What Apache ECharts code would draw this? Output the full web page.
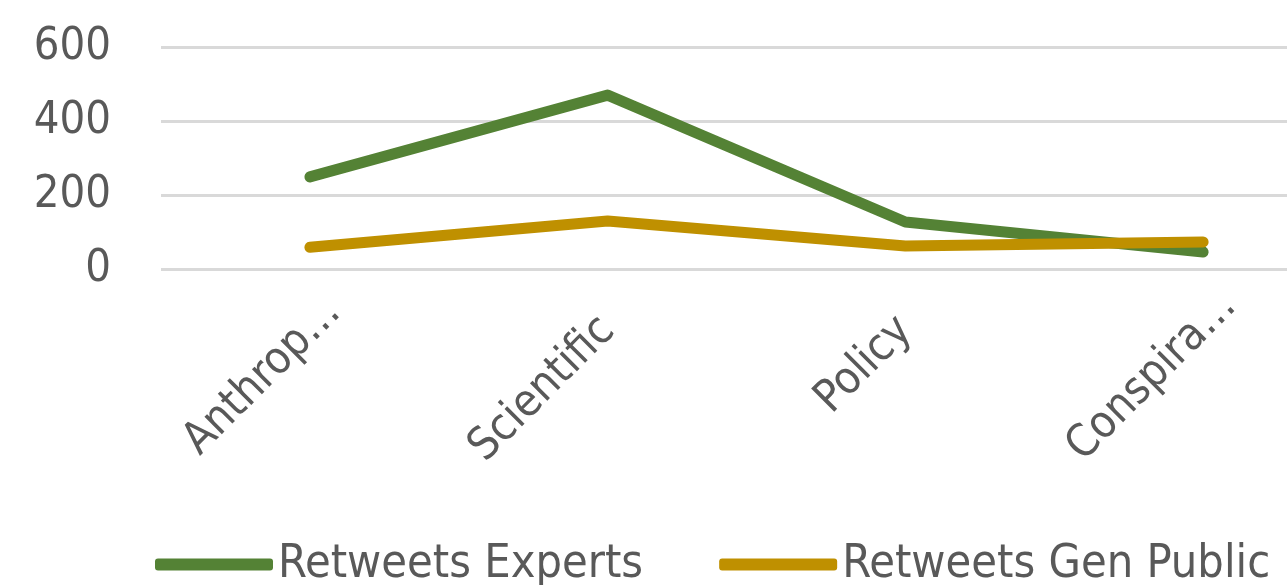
<!DOCTYPE html>
<html><head><meta charset="utf-8">
<script src="https://cdn.jsdelivr.net/npm/echarts@6/dist/echarts.min.js"></script>
<style>html,body{margin:0;padding:0;background:#fff;overflow:hidden;width:1287px;height:585px}#c{width:1352px;height:585px}</style>
</head><body><div id="c"></div>
<script>
var categories = ["Anthrop\u2026", "Scientific", "Policy", "Conspira\u2026"];
var expertsName = "Retweets Experts";
var publicName = "Retweets Gen Public";
var experts = [249, 470, 127, 46];
var genPublic = [59, 130, 62, 73];
var yTicks = [0, 200, 400, 600];

var FONT = "DejaVu Sans Condensed";
var labelKeys = ['a', 'n', 'n', 'c'];
var chart = echarts.init(document.getElementById('c'), null, {renderer: 'canvas'});
chart.setOption({
  animation: false,
  backgroundColor: '#ffffff',
  grid: {left: 161, right: 0, top: 47, bottom: 316, containLabel: false},
  legend: {
    left: 150, top: 536,
    itemWidth: 118, itemHeight: 12, itemGap: 76,
    icon: 'roundRect',
    textStyle: {fontFamily: FONT, fontSize: 46.5, color: '#595959'},
    data: [expertsName, publicName]
  },
  xAxis: {
    type: 'category', data: categories, boundaryGap: true,
    axisLine: {show: false}, axisTick: {show: false},
    axisLabel: {
      rotate: 45, interval: 0, margin: 55, fontFamily: FONT, fontSize: 45, color: '#595959',
      formatter: function (v, i) { return '{' + labelKeys[i] + '|' + v + '}'; },
      rich: {
        a: {fontFamily: FONT, fontSize: 45, color: '#595959', padding: [8, -30, 0, 0]},
        c: {fontFamily: FONT, fontSize: 45, color: '#595959', padding: [2, -36, 0, 0]},
        n: {fontFamily: FONT, fontSize: 45, color: '#595959'}
      }
    }
  },
  yAxis: {
    type: 'value', min: yTicks[0], max: yTicks[yTicks.length-1], interval: 200,
    axisLine: {show: false}, axisTick: {show: false},
    axisLabel: {margin: 50, fontFamily: FONT, fontSize: 45, color: '#595959'},
    splitLine: {lineStyle: {color: '#d9d9d9', width: 3}}
  },
  series: [
    {name: expertsName, type: 'line', data: experts, symbol: 'none',
     color: '#548235', lineStyle: {width: 11, cap: 'round', join: 'round', color: '#548235'}},
    {name: publicName, type: 'line', data: genPublic, symbol: 'none',
     color: '#bf9000', lineStyle: {width: 11, cap: 'round', join: 'round', color: '#bf9000'}}
  ]
});
</script></body></html>
